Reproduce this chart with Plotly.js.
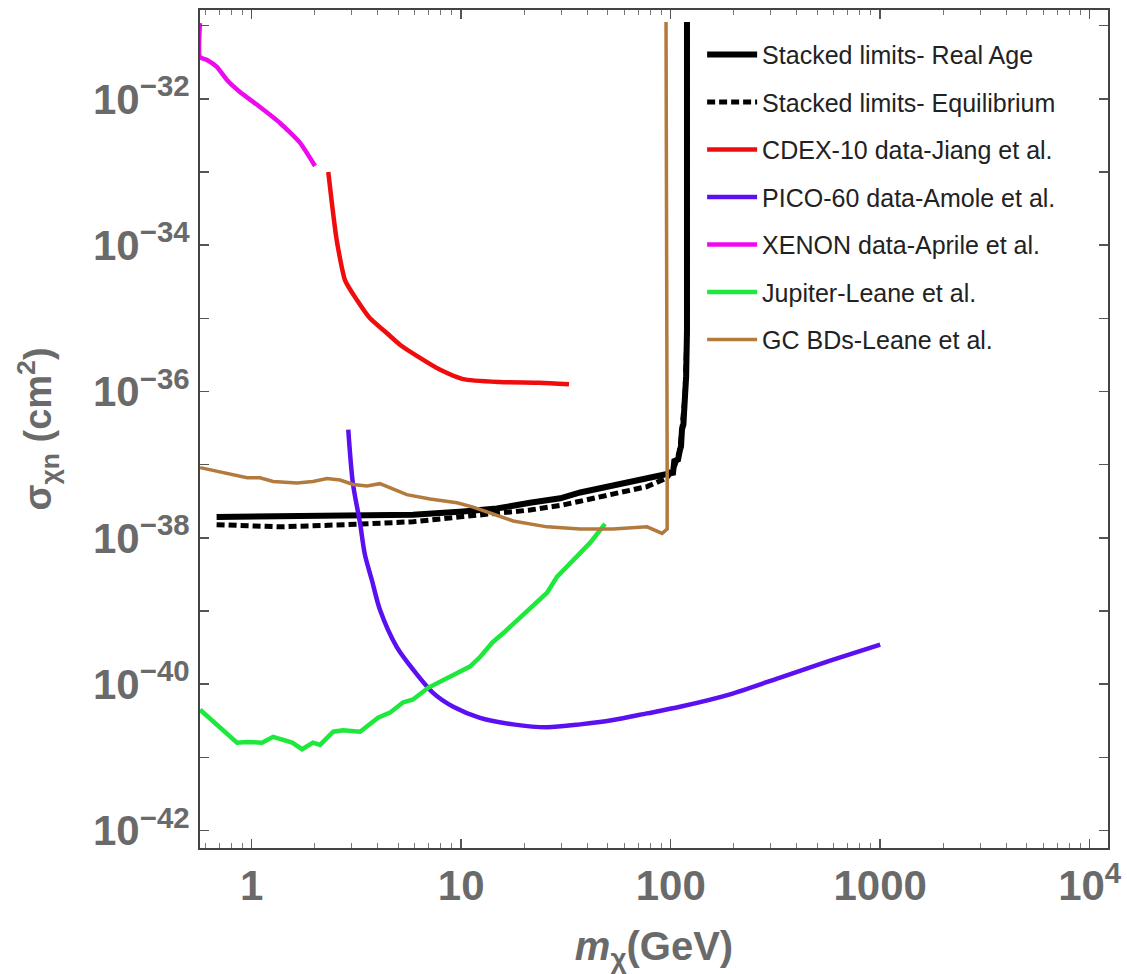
<!DOCTYPE html>
<html>
<head>
<meta charset="utf-8">
<script src="https://cdn.plot.ly/plotly-3.0.1.min.js"></script>
<style>
  html, body { margin: 0; padding: 0; background: #ffffff; }
  #chart { width: 1127px; height: 974px; }
</style>
</head>
<body>
<div id="chart"></div>
<script>
// ---- Data (mass in GeV, cross section as log10(sigma / cm^2)) ----
const realAgeMass = [0.68, 1.095, 1.96, 3.79, 5.89, 10.2, 14.8, 21.3, 29.7, 37.0, 53.1, 77.1, 102.6, 104, 108.4, 110.7, 112, 113.2, 115, 117, 118.5, 119.6, 119.6];
const realAgeLogSigma = [-37.716, -37.71, -37.71, -37.70, -37.685, -37.64, -37.60, -37.52, -37.46, -37.38, -37.29, -37.18, -37.11, -36.95, -36.93, -36.80, -36.75, -36.52, -36.45, -36.07, -35.80, -35.16, -30.95];

const equilMass = [0.68, 1.365, 2.84, 5.89, 10.2, 14.8, 21.3, 30.7, 53.1, 77.1, 96.2, 105, 110.7, 113.2, 117, 119.6, 119.6];
const equilLogSigma = [-37.82, -37.85, -37.82, -37.78, -37.71, -37.66, -37.62, -37.55, -37.41, -37.30, -37.18, -37.0, -36.80, -36.52, -36.07, -35.16, -30.95];

const cdexMass = [2.32, 2.42, 2.52, 2.58, 2.79, 3.18, 3.67, 4.33, 5.10, 6.36, 7.9, 10.2, 15.3, 23.7, 32.7];
const cdexLogSigma = [-33.0, -33.45, -33.85, -34.03, -34.48, -34.75, -35.0, -35.18, -35.36, -35.54, -35.70, -35.83, -35.87, -35.88, -35.90];

const picoMass = [2.89, 3.04, 3.29, 3.47, 3.74, 4.09, 4.92, 5.89, 7.34, 9.16, 12.3, 17.7, 25.7, 37.0, 53.1, 77.1, 110.7, 192, 333, 577, 1000];
const picoLogSigma = [-36.52, -37.25, -37.80, -38.23, -38.57, -38.98, -39.49, -39.80, -40.12, -40.31, -40.46, -40.55, -40.59, -40.55, -40.49, -40.40, -40.31, -40.14, -39.91, -39.68, -39.46];

const xenonMass = [0.566, 0.566, 0.612, 0.682, 0.762, 0.879, 1.095, 1.365, 1.702, 2.005];
const xenonLogSigma = [-30.963, -31.428, -31.469, -31.564, -31.742, -31.906, -32.111, -32.329, -32.602, -32.917];

const jupiterMass = [0.567, 0.729, 0.851, 0.95, 1.12, 1.265, 1.41, 1.56, 1.74, 1.96, 2.12, 2.45, 2.73, 3.29, 4.01, 4.57, 5.27, 5.89, 6.95, 8.85, 11.0, 12.3, 14.1, 16.2, 21.3, 25.7, 28.7, 35.7, 41.2, 48.6];
const jupiterLogSigma = [-40.35, -40.62, -40.80, -40.79, -40.80, -40.72, -40.76, -40.80, -40.89, -40.80, -40.83, -40.65, -40.63, -40.65, -40.46, -40.39, -40.25, -40.21, -40.05, -39.90, -39.76, -39.63, -39.43, -39.28, -38.96, -38.75, -38.53, -38.26, -38.07, -37.81];

const gcbdMass = [0.567, 0.729, 0.95, 1.095, 1.265, 1.645, 1.96, 2.29, 2.64, 3.05, 3.55, 4.09, 4.57, 5.5, 7.1, 9.55, 11.4, 13.7, 17.7, 25.7, 37.0, 53.1, 77.1, 91.0, 96.2, 96.2, 95.5, 95.0];
const gcbdLogSigma = [-37.04, -37.11, -37.18, -37.18, -37.23, -37.25, -37.23, -37.19, -37.21, -37.27, -37.29, -37.26, -37.32, -37.41, -37.47, -37.52, -37.58, -37.66, -37.77, -37.85, -37.88, -37.88, -37.85, -37.94, -37.88, -37.07, -33.38, -30.95];

const seriesNames = [
  "Stacked limits- Real Age",
  "Stacked limits- Equilibrium",
  "CDEX-10 data-Jiang et al.",
  "PICO-60 data-Amole et al.",
  "XENON data-Aprile et al.",
  "Jupiter-Leane et al.",
  "GC BDs-Leane et al."
];

const xTickVals = [1, 10, 100, 1000, 10000];
const xTickText = ["1", "10", "100", "1000", "10<sup>4</sup>"];
const yTickLabelExps = [-42, -40, -38, -36, -34, -32];
const yMinorExps = [-41, -39, -37, -35, -33, -31];

// ---- Build ----
const toSigma = arr => arr.map(v => Math.pow(10, v));

const yTickVals = yTickLabelExps.map(e => Math.pow(10, e));
const yTickText = yTickLabelExps.map(e => "10<sup>\u2212" + Math.abs(e) + "</sup>");
const yMinorVals = yMinorExps.map(e => Math.pow(10, e));

const xMinor = [];
for (let d = -1; d <= 3; d++) {
  for (let k = 2; k <= 9; k++) xMinor.push(k * Math.pow(10, d));
}

function mk(name, xs, ys, color, width, dash, smooth) {
  const line = { color: color, width: width, dash: dash || "solid" };
  if (smooth) { line.shape = "spline"; line.smoothing = smooth; }
  return {
    type: "scatter", mode: "lines", name: name,
    x: xs, y: toSigma(ys),
    line: line,
    legendgroup: name,
    hoverinfo: "x+y+name"
  };
}

const data = [
  mk(seriesNames[0], realAgeMass, realAgeLogSigma, "#000000", 6),
  mk(seriesNames[1], equilMass, equilLogSigma, "#000000", 5, "8px,4px"),
  mk(seriesNames[2], cdexMass, cdexLogSigma, "#f00c0c", 4.5, null, 0.6),
  mk(seriesNames[3], picoMass, picoLogSigma, "#5a10f0", 4.5, null, 0.8),
  mk(seriesNames[4], xenonMass, xenonLogSigma, "#ee0aee", 4.5, null, 0.5),
  mk(seriesNames[5], jupiterMass, jupiterLogSigma, "#1ee83c", 4.5),
  mk(seriesNames[6], gcbdMass, gcbdLogSigma, "#b27a3c", 3.5)
];

const fam = "Liberation Sans, Arial, sans-serif";
const tickFont = { family: fam, size: 42, color: "#6a6a6a", weight: "bold" };

const layout = {
  width: 1127, height: 974,
  paper_bgcolor: "#ffffff", plot_bgcolor: "#ffffff",
  margin: { l: 200, r: 19, t: 10, b: 126 },
  showlegend: true,
  legend: {
    x: 0.553, y: 0.974, xanchor: "left", yanchor: "top",
    bgcolor: "rgba(0,0,0,0)", borderwidth: 0,
    font: { family: fam, size: 25, color: "#222222" },
    tracegroupgap: 12,
    itemwidth: 50,
    traceorder: "grouped"
  },
  xaxis: {
    type: "log",
    range: [-0.2468, 4.0874],
    tickmode: "array", tickvals: xTickVals, ticktext: xTickText,
    ticks: "inside", ticklen: 9, tickwidth: 1.5, tickcolor: "#555555",
    minor: { tickmode: "array", tickvals: xMinor, ticks: "inside", ticklen: 5, tickwidth: 1, tickcolor: "#777777", showgrid: false },
    showline: true, linecolor: "#444444", linewidth: 2, mirror: "allticks",
    showgrid: false, zeroline: false,
    tickfont: tickFont,
    title: { text: "<i>m</i><sub>\u03c7</sub>(GeV)", font: { family: fam, size: 40, color: "#6a6a6a", weight: "bold" }, standoff: 25 }
  },
  yaxis: {
    type: "log",
    range: [-42.24, -30.785],
    tickmode: "array", tickvals: yTickVals, ticktext: yTickText,
    ticks: "inside", ticklen: 9, tickwidth: 1.5, tickcolor: "#555555",
    minor: { tickmode: "array", tickvals: yMinorVals, ticks: "inside", ticklen: 9, tickwidth: 1.5, tickcolor: "#555555", showgrid: false },
    showline: true, linecolor: "#444444", linewidth: 2, mirror: "allticks",
    showgrid: false, zeroline: false,
    tickfont: tickFont,
    title: { text: "\u03c3<sub>\u03c7n</sub> (cm<sup>2</sup>)", font: { family: fam, size: 38, color: "#6a6a6a", weight: "bold" }, standoff: 30 }
  }
};

Plotly.newPlot("chart", data, layout, { displayModeBar: false, staticPlot: true });
</script>
</body>
</html>
